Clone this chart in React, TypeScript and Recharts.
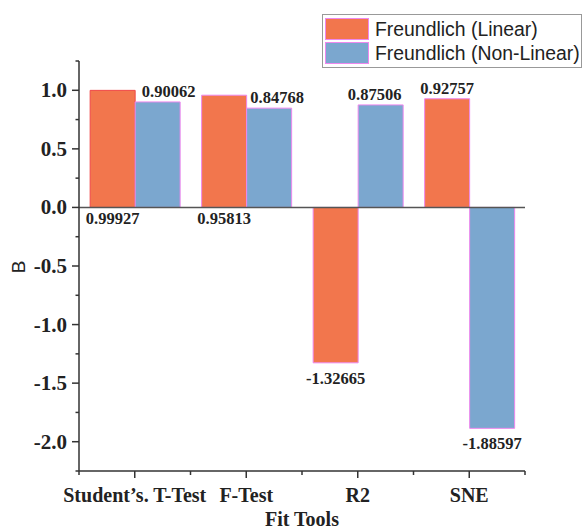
import React from 'react';
import { BarChart, Bar, XAxis, YAxis, ReferenceLine, LabelList, Legend, Cell } from 'recharts';

const categories = ["Student\u2019s. T-Test", 'F-Test', 'R2', 'SNE'];
const linearValues = [0.99927, 0.95813, -1.32665, 0.92757];
const nonLinearValues = [0.90062, 0.84768, 0.87506, -1.88597];
const linearLabels = ['0.99927', '0.95813', '-1.32665', '0.92757'];
const nonLinearLabels = ['0.90062', '0.84768', '0.87506', '-1.88597'];
const yTicks = [-2.25, -2, -1.75, -1.5, -1.25, -1, -0.75, -0.5, -0.25, 0, 0.25, 0.5, 0.75, 1, 1.25];
const seriesNames = ['Freundlich (Linear)', 'Freundlich (Non-Linear)'];

// label placement styling (not data)
const linearPlacement = ['base', 'base', 'end', 'end'];
const nonLinearShift = [11, 8, -6, 0];

const data = categories.map((c, i) => ({
  name: c,
  linear: linearValues[i],
  nonLinear: nonLinearValues[i],
}));

const ORANGE = '#F2764D';
const BLUE = '#7BA7CF';
const EDGE = '#EE88EE';
const SERIF = '"Liberation Serif", "Times New Roman", serif';
const SANS = '"Liberation Sans", Arial, sans-serif';
const AXIS = '#333';

const YTick = (props: any) => {
  const { x, y, payload } = props;
  const v = payload.value;
  const major = Math.abs(v * 2 - Math.round(v * 2)) < 1e-6;
  const len = major ? 7 : 3.5;
  return (
    <g>
      <line x1={x} x2={x - len} y1={y} y2={y} stroke={AXIS} strokeWidth={1.5} />
      {major && (
        <text x={x - 12} y={y} dy={7} textAnchor="end" fontFamily={SERIF} fontWeight="bold" fontSize={21} fill="#222">
          {v.toFixed(1)}
        </text>
      )}
    </g>
  );
};

const XTick = (props: any) => {
  const { x, y, payload, index } = props;
  const off = payload.offset ?? 0;
  return (
    <g>
      <line x1={x} x2={x} y1={y} y2={y + 7} stroke={AXIS} strokeWidth={1.5} />
      {index === 0 && <line x1={x - off} x2={x - off} y1={y} y2={y + 4} stroke={AXIS} strokeWidth={1.5} />}
      <line x1={x + off} x2={x + off} y1={y} y2={y + 4} stroke={AXIS} strokeWidth={1.5} />
      <text x={x} y={y + 31} textAnchor="middle" fontFamily={SERIF} fontWeight="bold" fontSize={20} fill="#222">
        {payload.value}
      </text>
    </g>
  );
};

const makeLabel = (labels: string[], placement: string[] | null, shift: number[] | null) => (props: any) => {
  const { x, y, width, height, index, value } = props;
  const top = Math.min(y, y + height);
  const bottom = Math.max(y, y + height);
  const cx = x + width / 2 + (shift ? shift[index] : 0);
  const place = placement ? placement[index] : 'end';
  let ty: number;
  if (place === 'base') ty = bottom + 17;
  else if (value >= 0) ty = top - 5;
  else ty = bottom + 21;
  return (
    <text x={cx} y={ty} textAnchor="middle" fontFamily={SERIF} fontWeight="bold" fontSize={16.5} fill="#222">
      {labels[index]}
    </text>
  );
};

const LegendBox = () => (
  <div
    style={{
      border: '1.5px solid #999',
      background: '#fff',
      padding: '2px 2px',
      fontFamily: SANS,
      fontSize: 19.4,
      color: '#222',
      width: 260,
      height: 54,
      boxSizing: 'border-box',
    }}
  >
    {[ORANGE, BLUE].map((c, i) => (
      <div key={i} style={{ display: 'flex', alignItems: 'center', height: 24 }}>
        <div style={{ width: 44, height: 22, background: c, border: `1px solid ${EDGE}`, boxSizing: 'border-box', marginRight: 6, flex: 'none' }} />
        <span style={{ whiteSpace: 'nowrap' }}>{seriesNames[i]}</span>
      </div>
    ))}
  </div>
);

export default function App() {
  return (
    <div style={{ position: 'absolute', left: 0, top: 0, width: 584, height: 529, background: '#fff' }}>
      <BarChart
        width={584}
        height={529}
        data={data}
        margin={{ top: 61, right: 59, bottom: 0, left: 0 }}
        barCategoryGap="10%"
        barGap={0}
      >
        <XAxis
          dataKey="name"
          axisLine={{ stroke: AXIS, strokeWidth: 1.5 }}
          tickLine={false}
          tickSize={0}
          tickMargin={0}
          height={58}
          interval={0}
          tick={<XTick />}
          label={{
            content: (p: any) => {
              const vb = p.viewBox;
              return (
                <text x={vb.x + vb.width / 2} y={vb.y + 55} textAnchor="middle" fontFamily={SERIF} fontWeight="bold" fontSize={20} fill="#222">
                  Fit Tools
                </text>
              );
            },
          }}
        />
        <YAxis
          type="number"
          domain={[-2.25, 1.25]}
          ticks={yTicks}
          interval={0}
          width={79}
          axisLine={{ stroke: AXIS, strokeWidth: 1.5 }}
          tickLine={false}
          tickSize={0}
          tickMargin={0}
          tick={<YTick />}
          label={{
            content: () => (
              <text x={25} y={267} transform="rotate(-90 25 267)" textAnchor="middle" fontFamily={SANS} fontSize={19} fill="#222">
                B
              </text>
            ),
          }}
        />
        <ReferenceLine y={0} stroke="#555" strokeWidth={1.5} />
        <Legend
          layout="vertical"
          align="center"
          verticalAlign="middle"
          content={<LegendBox />}
          wrapperStyle={{ position: 'absolute', left: 322, top: 14, width: 260, height: 54 }}
        />
        <Bar dataKey="linear" name={seriesNames[0]} fill={ORANGE} stroke={EDGE} strokeWidth={1} isAnimationActive={false}>
          {data.map((_, i) => (
            <Cell key={i} fill={ORANGE} stroke={i === 0 ? '#F04848' : EDGE} />
          ))}
          <LabelList dataKey="linear" content={makeLabel(linearLabels, linearPlacement, null)} />
        </Bar>
        <Bar dataKey="nonLinear" name={seriesNames[1]} fill={BLUE} stroke={EDGE} strokeWidth={1} isAnimationActive={false}>
          <LabelList dataKey="nonLinear" content={makeLabel(nonLinearLabels, null, nonLinearShift)} />
        </Bar>
      </BarChart>
    </div>
  );
}
